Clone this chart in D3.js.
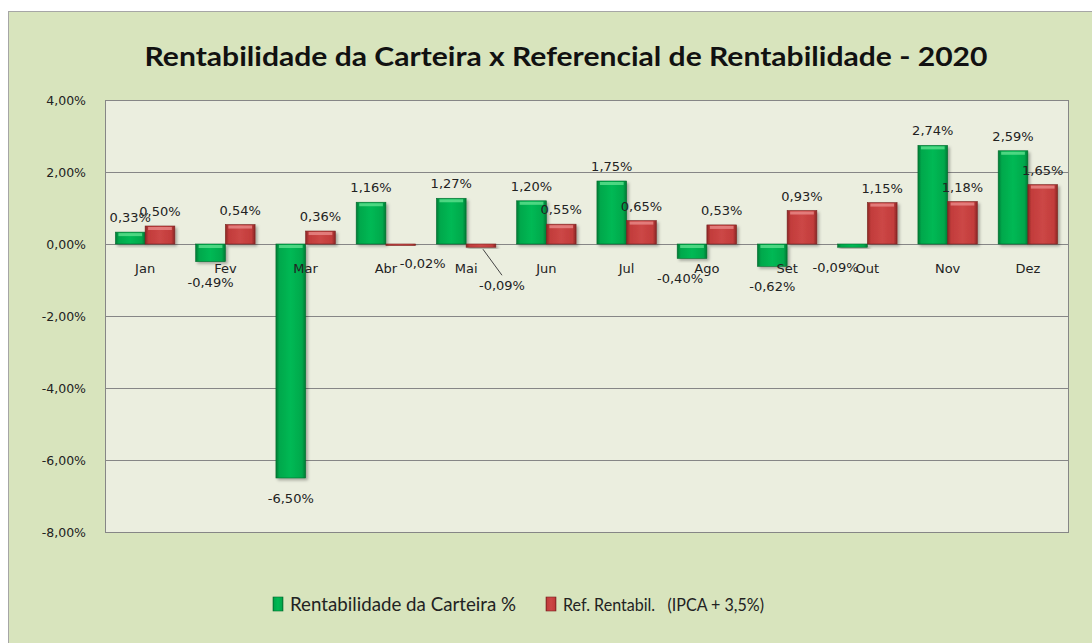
<!DOCTYPE html>
<html>
<head>
<meta charset="utf-8">
<script src="https://cdn.jsdelivr.net/npm/d3@7"></script>
<style>
  body { margin: 0; background: #fff; }
  text { font-family: "DejaVu Sans", Verdana, sans-serif; }
</style>
</head>
<body>
<script>
// data
var months = ["Jan", "Fev", "Mar", "Abr", "Mai", "Jun", "Jul", "Ago", "Set", "Out", "Nov", "Dez"];
var carteira = [0.33, -0.49, -6.50, 1.16, 1.27, 1.20, 1.75, -0.40, -0.62, -0.09, 2.74, 2.59];
var referencial = [0.50, 0.54, 0.36, -0.02, -0.09, 0.55, 0.65, 0.53, 0.93, 1.15, 1.18, 1.65];
var yTicks = [4, 2, 0, -2, -4, -6, -8];
var seriesNames = ["Rentabilidade da Carteira %", "Ref. Rentabil.   (IPCA + 3,5%)"];

var W = 1092, H = 643;
var plot = { left: 105, top: 100, right: 1068, bottom: 532 };

var svg = d3.select("body").append("svg")
  .attr("width", W)
  .attr("height", H);

var defs = svg.append("defs");

function barGradient(id, edge, mid, light) {
  var g = defs.append("linearGradient").attr("id", id)
    .attr("x1", 0).attr("x2", 1).attr("y1", 0).attr("y2", 0);
  g.append("stop").attr("offset", "0%").attr("stop-color", edge);
  g.append("stop").attr("offset", "12%").attr("stop-color", mid);
  g.append("stop").attr("offset", "50%").attr("stop-color", light);
  g.append("stop").attr("offset", "88%").attr("stop-color", mid);
  g.append("stop").attr("offset", "100%").attr("stop-color", edge);
}
barGradient("gGreen", "#007a34", "#00a84c", "#00b954");
barGradient("gRed", "#8a2625", "#c23c3b", "#cc4746");

var shadow = defs.append("filter").attr("id", "shadow")
  .attr("x", "-20%").attr("y", "-20%").attr("width", "150%").attr("height", "150%");
shadow.append("feDropShadow").attr("dx", 2).attr("dy", 2).attr("stdDeviation", 1.5)
  .attr("flood-color", "#000").attr("flood-opacity", 0.3);

// chart area
svg.append("rect")
  .attr("x", 8.5).attr("y", 11.5)
  .attr("width", W).attr("height", H)
  .attr("fill", "#d8e4bd")
  .attr("stroke", "#a6a6a6");

svg.append("text")
  .attr("x", 566).attr("y", 66)
  .attr("text-anchor", "middle")
  .style("font-family", "Lato, 'Open Sans', sans-serif")
  .style("font-weight", "bold")
  .style("font-size", "26px")
  .attr("fill", "#111")
  .attr("textLength", 843)
  .attr("lengthAdjust", "spacingAndGlyphs")
  .text("Rentabilidade da Carteira x Referencial de Rentabilidade - 2020");

// scales
var y = d3.scaleLinear().domain([-8, 4]).range([plot.bottom, plot.top]);
var x0 = d3.scaleBand().domain(months).range([plot.left, plot.right])
  .paddingInner(0.26).paddingOuter(0.13);
var x1 = d3.scaleBand().domain([0, 1]).range([0, x0.bandwidth()]);

var pct = function(v) { return d3.format(".2f")(v).replace("\u2212", "-").replace(".", ",") + "%"; };

svg.append("rect")
  .attr("x", plot.left + 0.5).attr("y", plot.top + 0.5)
  .attr("width", plot.right - plot.left).attr("height", plot.bottom - plot.top)
  .attr("fill", "#ebeedf")
  .attr("stroke", "#868686");

// gridlines
svg.append("g")
  .attr("transform", "translate(" + plot.left + ",0)")
  .call(d3.axisLeft(y).tickValues(yTicks).tickSize(-(plot.right - plot.left)).tickFormat(""))
  .call(function(g) {
    g.select(".domain").remove();
    g.selectAll(".tick line").attr("stroke", "#868686").attr("stroke-width", 1.2);
  });

// y labels
svg.append("g")
  .attr("transform", "translate(" + (plot.left - 16) + ",0)")
  .call(d3.axisLeft(y).tickValues(yTicks).tickSize(0).tickFormat(pct))
  .call(function(g) {
    g.select(".domain").remove();
    g.selectAll("text")
      .style("font-family", "'DejaVu Sans', sans-serif")
      .style("font-size", "12.5px").attr("fill", "#222");
  });

var rows = [];
months.forEach(function(m, i) {
  rows.push({ m: m, s: 0, v: carteira[i] });
  rows.push({ m: m, s: 1, v: referencial[i] });
});

// bars
svg.append("g").selectAll("rect")
  .data(rows)
  .join("rect")
  .attr("x", function(d) { return x0(d.m) + x1(d.s); })
  .attr("width", x1.bandwidth())
  .attr("y", function(d) { return y(Math.max(0, d.v)); })
  .attr("height", function(d) { return Math.max(1.5, Math.abs(y(d.v) - y(0))); })
  .attr("fill", function(d) { return d.s === 0 ? "url(#gGreen)" : "url(#gRed)"; })
  .attr("stroke", function(d) { return d.s === 0 ? "#006b2d" : "#7a2322"; })
  .attr("stroke-width", 0.6)
  .attr("filter", "url(#shadow)");

// top bevel highlight
svg.append("g").selectAll("rect")
  .data(rows.filter(function(d) { return Math.abs(y(d.v) - y(0)) > 8; }))
  .join("rect")
  .attr("x", function(d) { return x0(d.m) + x1(d.s) + 3; })
  .attr("width", x1.bandwidth() - 6)
  .attr("y", function(d) { return y(Math.max(0, d.v)) + 1; })
  .attr("height", 3)
  .attr("fill", function(d) { return d.s === 0 ? "#5fe08f" : "#e98a88"; })
  .attr("opacity", 0.8);

// category labels
svg.append("g").selectAll("text")
  .data(months)
  .join("text")
  .attr("x", function(d) { return x0(d) + x0.bandwidth() / 2; })
  .attr("y", y(0) + 29)
  .attr("text-anchor", "middle")
  .style("font-size", "13px")
  .attr("fill", "#222")
  .text(function(d) { return d; });

// label nudges (month index, series, dx, dy)
var nudges = { "3-1": [22, -2], "4-1": [21, 18], "9-0": [-17, 0], "7-0": [-12, 0] };

// leader line for Mai ref label
svg.append("line")
  .attr("x1", x0("Mai") + x1(1) + x1.bandwidth() / 2 + 2)
  .attr("y1", y(referencial[4]) + 2)
  .attr("x2", x0("Mai") + x1(1) + x1.bandwidth() / 2 + 21)
  .attr("y2", y(referencial[4]) + 28)
  .attr("stroke", "#444").attr("stroke-width", 1);

svg.append("g").selectAll("text")
  .data(rows)
  .join("text")
  .attr("x", function(d) {
    var n = nudges[months.indexOf(d.m) + "-" + d.s];
    return x0(d.m) + x1(d.s) + x1.bandwidth() / 2 + (n ? n[0] : 0);
  })
  .attr("y", function(d) {
    var n = nudges[months.indexOf(d.m) + "-" + d.s];
    var base = d.v >= 0 ? y(d.v) - 10 : y(d.v) + 25;
    return base + (n ? n[1] : 0);
  })
  .attr("text-anchor", "middle")
  .style("font-size", "13px")
  .attr("fill", "#222")
  .text(function(d) { return pct(d.v); });

// legend
var legend = svg.append("g");
var legendItems = [
  { x: 273, fill: "url(#gGreen)", stroke: "#006b2d", size: "19px", width: 226 },
  { x: 546, fill: "url(#gRed)", stroke: "#7a2322", size: "17px", width: 201 }
];
legendItems.forEach(function(it, i) {
  legend.append("rect")
    .attr("x", it.x).attr("y", 597)
    .attr("width", 10).attr("height", 14)
    .attr("fill", it.fill).attr("stroke", it.stroke).attr("stroke-width", 0.6);
  legend.append("text")
    .attr("x", it.x + 17).attr("y", 611)
    .style("font-family", "Lato, 'Open Sans', sans-serif")
    .style("font-size", it.size)
    .attr("fill", "#222")
    .attr("textLength", it.width)
    .attr("lengthAdjust", "spacingAndGlyphs")
    .style("white-space", "pre")
    .text(seriesNames[i]);
});
</script>
</body>
</html>
